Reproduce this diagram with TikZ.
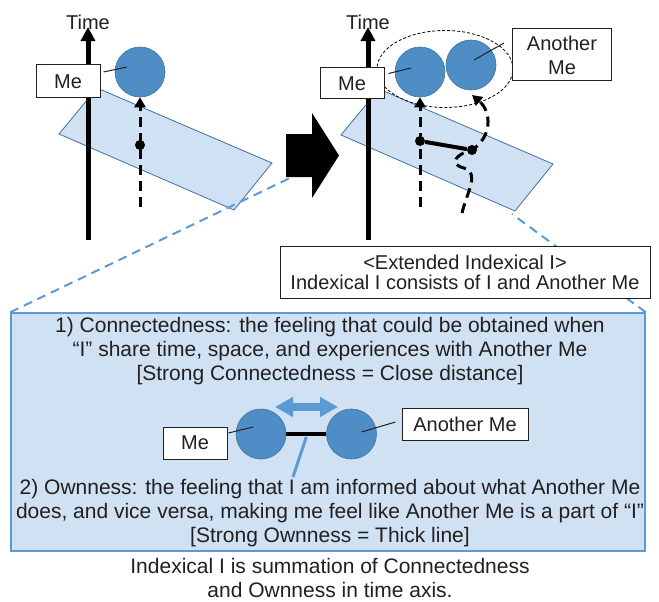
\documentclass[tikz,border=0pt]{standalone}
\usepackage{fontspec}
\setmainfont{Liberation Sans}
\usetikzlibrary{arrows.meta, shapes.geometric, calc}
\definecolor{ink}{HTML}{231F20}
\definecolor{ballblue}{HTML}{4F8DC6}
\definecolor{balledge}{HTML}{41719C}
\definecolor{sheet}{HTML}{CFE1F2}
\definecolor{linkblue}{HTML}{5B9BD5}

\begin{document}
\begin{tikzpicture}[x=1pt, y=-1pt, text=ink,
  lbl/.style={draw=ink, line width=1pt, fill=white, inner sep=0pt, font=\fontsize{20}{24}\selectfont},
  ball/.style={circle, draw=balledge, fill=ballblue, minimum size=50pt, inner sep=0pt, line width=0.6pt},
  dot/.style={circle, fill=black, minimum size=10pt, inner sep=0pt},
  tick/.style={draw=ink, line width=1pt},
  axis/.style={line width=5pt, shorten >=-3pt, -{Triangle[width=14pt,length=14pt]}},
  dasharrow/.style={line width=3pt, dash pattern=on 10pt off 6pt, -{Triangle[width=11pt,length=10pt]}},
  bluedash/.style={linkblue, line width=2pt, dash pattern=on 9pt off 6pt},
  plane/.style={fill=sheet, draw=balledge, line width=0.8pt},
  para/.style={align=center, inner sep=0pt, font=\fontsize{21}{24}\selectfont}]
\useasboundingbox (0,0) rectangle (659,602);

\filldraw[plane] (59,134) -- (97,88) -- (272,163) -- (234,210) -- cycle;
\filldraw[plane] (341,135) -- (379,89) -- (553,164) -- (515,211) -- cycle;

\node[draw=linkblue, fill=sheet, line width=1.5pt, minimum width=634pt, minimum height=238pt, inner sep=0pt] (panel) at (328,432) {};
\coordinate (la) at (290,178);
\coordinate (ra) at (512,214);
\draw[bluedash] (panel.north west) -- (la);
\draw[bluedash] (panel.north east) -- (ra);

\coordinate (ax1) at (88,240);
\coordinate (ax2) at (368,240);
\node[inner sep=0pt, font=\fontsize{20}{20}\selectfont] (time1) at (88,22.5) {Time};
\node[inner sep=0pt, font=\fontsize{20}{20}\selectfont] (time2) at (368,22.5) {Time};
\draw[axis] (ax1) -- (time1.south);
\draw[axis] (ax2) -- (time2.south);

\node[ball] (c1) at (140,72) {};
\node[lbl, minimum width=64pt, minimum height=33pt] (me1) at (68,81.5) {Me};
\draw[tick] ($(me1.east)+(3,-9.5)$) -- ($(c1)+(-13,-5)$);
\coordinate (v1) at (140,207);
\draw[dasharrow] (v1) -- (c1.south);
\node[dot] (d1) at (140,145) {};

\fill (286,134) -- (312,134) -- (312,113) -- (339,155.5) -- (312,198) -- (312,177) -- (286,177) -- cycle;

\node[ellipse, draw, line width=0.8pt, dash pattern=on 3pt off 2pt, minimum width=136pt, minimum height=77pt] (grp) at (445,69) {};
\node[ball] (c1r) at (420,72) {};
\node[ball] (c2r) at (471,65) {};
\node[lbl, minimum width=64pt, minimum height=31pt] (me2) at (352,83.5) {Me};
\node[lbl, align=center, minimum width=99pt, minimum height=52pt] (am) at (562,55) {Another\\Me};
\draw[tick] ($(me2.east)+(4,-10)$) -- ($(c1r)+(-9,-4)$);
\draw[tick] ($(am.west)+(-8,-12)$) -- ($(c2r)+(3,-5)$);
\coordinate (v2) at (420,207);
\coordinate (w0) at (462,213);
\coordinate (w1) at (472,95);
\draw[dasharrow] (v2) -- (c1r.south);
\draw[dasharrow] (w0) .. controls (467,192) and (480,173) .. (464,168) .. controls (448,164) and (456,154) .. (472,150) .. controls (492,137) and (492,112) .. (w1);
\node[dot] (d1r) at (420,141) {};
\node[dot] (d2) at (472,150) {};
\draw[line width=4pt] (d1r) -- (d2);

\node[lbl, align=center, font=\fontsize{20}{20}\selectfont, minimum width=370pt, minimum height=52pt] (ext) at (465,272) {<Extended Indexical I>\\Indexical I consists of I and Another Me};

\node[para] (conn) at (330,351) {1) Connectedness: the feeling that could be obtained when\\“I” share time, space, and experiences with Another Me\\{[Strong Connectedness = Close distance]}};
\node[ball, minimum width=49pt] (bc1) at (261,434) {};
\node[ball, minimum width=49pt] (bc2) at (351.5,434) {};
\draw[line width=4pt] (bc1) -- (bc2);
\node[lbl, minimum width=64pt, minimum height=32pt] (bme) at (195,443) {Me};
\node[lbl, minimum width=126pt, minimum height=32pt] (bam) at (465,424) {Another Me};
\draw[tick] ($(bme.east)+(1,-10)$) -- ($(bc1)+(-8,-7)$);
\draw[tick] ($(bam.west)+(-6,-2)$) -- ($(bc2)+(10,-2)$);
\coordinate (gl) at (275,407);
\coordinate (gr) at (338,407);
\draw[linkblue, line width=8pt, {Triangle[width=19pt,length=18pt]}-{Triangle[width=19pt,length=18pt]}] (gl) -- (gr);
\coordinate (stem) at (293,477);
\draw[linkblue, line width=3pt] ($(bc1.east)!0.5!(bc2.west)+(0,3)$) -- (stem);
\node[para] (own) at (330,513.5) {2) Ownness: the feeling that I am informed about what Another Me\\does, and vice versa, making me feel like Another Me is a part of “I”\\{[Strong Ownness = Thick line]}};

\node[para] (cap) at (330,578) {Indexical I is summation of Connectedness\\and Ownness in time axis.};
\end{tikzpicture}
\end{document}
